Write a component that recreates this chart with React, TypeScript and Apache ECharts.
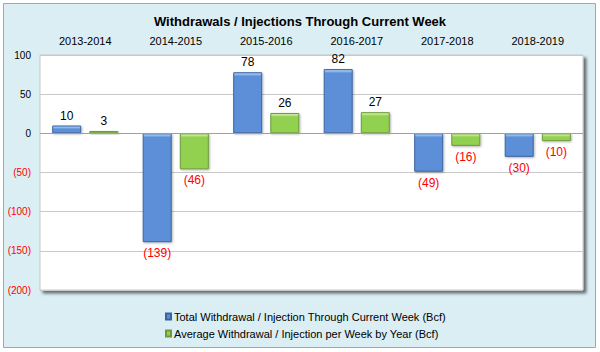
import React, { useEffect, useRef } from "react";
import * as echarts from "echarts";

const categories = ["2013-2014", "2014-2015", "2015-2016", "2016-2017", "2017-2018", "2018-2019"];
const totalValues = [10, -139, 78, 82, -49, -30];
const avgValues = [3, -46, 26, 27, -16, -10];
const seriesNames = [
  "Total Withdrawal / Injection Through Current Week (Bcf)",
  "Average Withdrawal / Injection per Week by Year (Bcf)",
];
const titleText = "Withdrawals / Injections Through Current Week";

const FONT = "'Liberation Sans', Arial, sans-serif";
const PX_PER_UNIT = 236 / 300;

function fmt(v: number): string {
  return v < 0 ? `(${Math.abs(v)})` : `${v}`;
}

function barItems(values: number[], light: string, main: string) {
  return values.map((v) => {
    const h = Math.max(1, Math.abs(v) * PX_PER_UNIT);
    const f = Math.min(0.45, 3.5 / h);
    return {
      value: v,
      itemStyle: {
        color: new echarts.graphic.LinearGradient(0, 0, 0, 1, [
          { offset: 0, color: light },
          { offset: f * 0.4, color: light },
          { offset: f, color: main },
          { offset: 1, color: main },
        ]),
      },
      label: {
        position: v < 0 ? "bottom" : "top",
        color: v < 0 ? "#ff0000" : "#000000",
        distance: v < 0 ? 5 : 4,
      },
    };
  });
}

export default function App() {
  const ref = useRef<HTMLDivElement>(null);
  useEffect(() => {
    if (!ref.current) return;
    const chart = echarts.init(ref.current, undefined, { renderer: "svg" });
    const labelCommon = {
      show: true,
      fontFamily: FONT,
      fontSize: 12,
      formatter: (p: any) => fmt(p.value),
    };
    chart.setOption({
      animation: false,
      backgroundColor: "#ffffff",
      graphic: [
        {
          type: "rect",
          z: -10,
          silent: true,
          shape: { x: 3.5, y: 3.5, width: 592, height: 344 },
          style: { fill: "#dbeef4", stroke: "#a6a6a6", lineWidth: 1 },
        },
      ],
      title: {
        text: titleText,
        left: "center",
        top: 10,
        textStyle: { fontFamily: FONT, fontSize: 13, fontWeight: "bold", color: "#000" },
      },
      legend: {
        orient: "vertical",
        left: 160,
        top: 305,
        itemWidth: 5,
        itemHeight: 6,
        itemGap: 4,
        icon: "rect",
        textStyle: { fontFamily: FONT, fontSize: 11, color: "#000", lineHeight: 13, padding: [0, 0, 0, -2] },
        data: seriesNames,
      },
      grid: {
        left: 40,
        right: 17,
        top: 55,
        bottom: 62,
        show: true,
        backgroundColor: "#ffffff",
        borderColor: "#c8c8c8",
        borderWidth: 1,
        shadowColor: "rgba(0,0,0,0.55)",
        shadowBlur: 3,
        shadowOffsetX: 3,
        shadowOffsetY: 3,
      },
      xAxis: {
        type: "category",
        position: "top",
        data: categories,
        axisLine: { show: false },
        axisTick: { show: false },
        axisLabel: { fontFamily: FONT, fontSize: 11, color: "#000", margin: 9 },
      },
      yAxis: {
        type: "value",
        min: -200,
        max: 100,
        interval: 50,
        axisLine: { show: false },
        axisTick: { show: false },
        splitLine: { lineStyle: { color: "#c8c8c8", width: 1 } },
        axisLabel: {
          fontFamily: FONT,
          fontSize: 10,
          margin: 9,
          formatter: (v: number) => fmt(v),
          color: (v: any) => (Number(v) < 0 ? "#ff0000" : "#000000"),
        },
      },
      series: [
        {
          name: seriesNames[0],
          type: "bar",
          barWidth: 29,
          barGap: "28%",
          data: barItems(totalValues, "#9cc3ef", "#5b8fd8"),
          itemStyle: { color: "#5b8fd8", borderColor: "#3a64a0", borderWidth: 1, shadowColor: "rgba(0,0,0,0.3)", shadowBlur: 2, shadowOffsetX: 1, shadowOffsetY: 1 },
          label: labelCommon,
          markLine: {
            silent: true,
            symbol: "none",
            label: { show: false },
            lineStyle: { color: "#a0a0a0", type: "solid", width: 1 },
            data: [{ yAxis: 0 }],
          },
        },
        {
          name: seriesNames[1],
          type: "bar",
          barWidth: 29,
          barGap: "28%",
          data: barItems(avgValues, "#c8ea9c", "#92d050"),
          itemStyle: { color: "#92d050", borderColor: "#6c9a3a", borderWidth: 1, shadowColor: "rgba(0,0,0,0.3)", shadowBlur: 2, shadowOffsetX: 1, shadowOffsetY: 1 },
          label: labelCommon,
        },
      ],
    });
    return () => chart.dispose();
  }, []);
  return (
    <div
      ref={ref}
      style={{ position: "absolute", left: 0, top: 0, width: 600, height: 352 }}
    />
  );
}
